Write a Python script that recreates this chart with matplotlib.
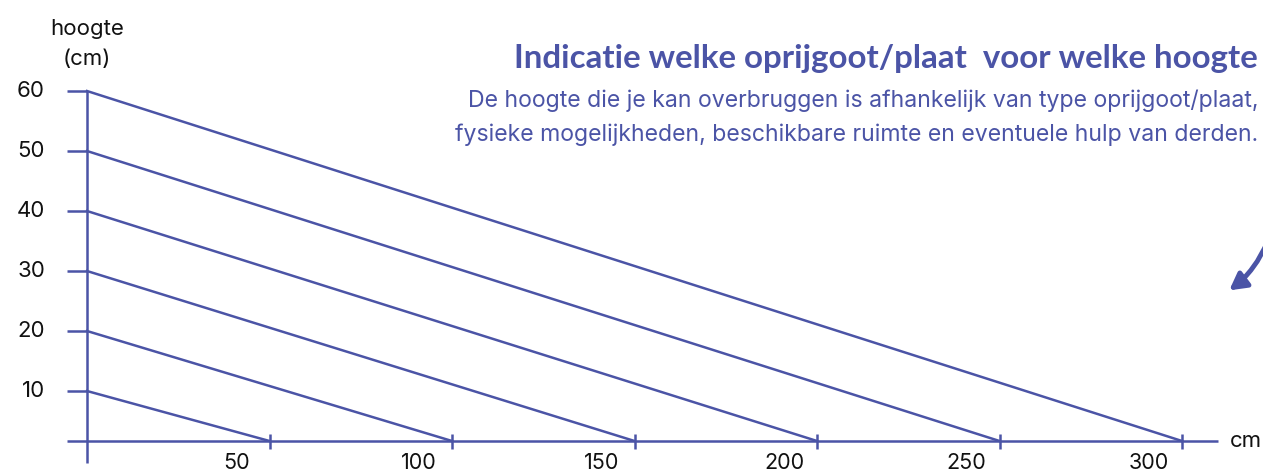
import numpy as np
import matplotlib.pyplot as plt
from matplotlib.transforms import ScaledTranslation

# Gegevens: hoogte (cm) en bijbehorende lengte van de oprijgoot (cm)
heights = [10, 20, 30, 40, 50, 60]
lengths = [50, 100, 150, 200, 250, 300]
x_labels = ["50", "100", "150", "200", "250", "300"]
y_labels = ["10", "20", "30", "40", "50", "60"]

color = "#4b54a6"
txt = "#111111"
plt.rcParams['font.family'] = ['Inter', 'DejaVu Sans']

fig = plt.figure(figsize=(12.63, 4.73), dpi=100)
ax = fig.add_axes([0, 0, 1, 1])

# schaal: 50 cm = 182.5 px, 10 cm hoogte = 60 px
px_x = 50 / 182.5
px_y = 10 / 60
ax.set_xlim(-87 * px_x, (1263 - 87) * px_x)
ax.set_ylim(60 - (473 - 91) * px_y, 60 + 91 * px_y)
ax.axis('off')

base_y = (451 - 441) * px_y  # de x-as ligt iets boven 0

# assen
ax.plot([-20 * px_x, 1131 * px_x], [base_y, base_y], color=color, lw=1.8, solid_capstyle='butt')
ax.plot([0, 0], [60, base_y - 22 * px_y], color=color, lw=1.8, solid_capstyle='butt')

# hellingen
for h, l in zip(heights, lengths):
    ax.plot([0, l], [h, base_y], color=color, lw=1.8)
    ax.plot([-20 * px_x, 0], [h, h], color=color, lw=1.8, solid_capstyle='butt')
    ax.plot([l, l], [base_y - 8 * px_y, base_y + 7 * px_y], color=color, lw=1.8, solid_capstyle='butt')

# labels
off = ScaledTranslation(-0.33, 0, fig.dpi_scale_trans)
for l, lab in zip(lengths, x_labels):
    ax.text(l, base_y - 3.7, lab, ha='center', va='center', fontsize=15.5,
            color=txt, transform=ax.transData + off)
for h, lab in zip(heights, y_labels):
    ax.text(-42 * px_x, h, lab, ha='right', va='center', fontsize=16, color=txt)

ax.text(0, 60 + 10.3, "hoogte", ha='center', va='center', fontsize=16, color=txt)
ax.text(0, 60 + 5.4, "(cm)", ha='center', va='center', fontsize=16, color=txt)
ax.text(1143 * px_x, base_y, "cm", ha='left', va='center', fontsize=16, color=txt)

fig.text(1258 / 1263, 1 - 58 / 473, "Indicatie welke oprijgoot/plaat  voor welke hoogte",
         ha='right', va='center', fontsize=23.8, fontweight='bold', color=color,
         family=['Lato', 'DejaVu Sans'])
fig.text(1258 / 1263, 1 - 101 / 473,
         "De hoogte die je kan overbruggen is afhankelijk van type oprijgoot/plaat,",
         ha='right', va='center', fontsize=16.6, color=color)
fig.text(1258 / 1263, 1 - 135 / 473,
         "fysieke mogelijkheden, beschikbare ruimte en eventuele hulp van derden.",
         ha='right', va='center', fontsize=16.6, color=color)

# pijl rechts
ax.annotate("", xy=(1140 * px_x, 60 - (292 - 91) * px_y),
            xytext=(1182 * px_x, 60 - (238 - 91) * px_y),
            arrowprops=dict(arrowstyle='-|>,head_length=1.0,head_width=0.55', color=color, lw=3.5,
                            connectionstyle='arc3,rad=-0.15'), annotation_clip=False)

fig.savefig("out.png", dpi=100)
